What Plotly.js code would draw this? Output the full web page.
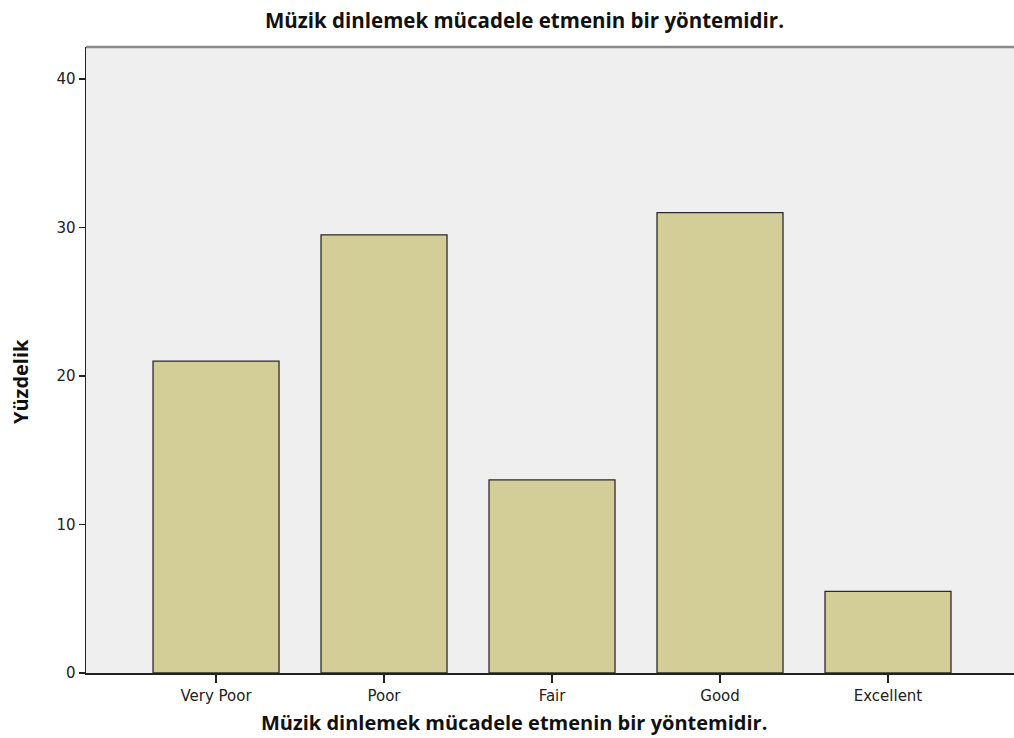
<!DOCTYPE html>
<html>
<head>
<meta charset="utf-8">
<script src="https://cdn.plot.ly/plotly-3.0.1.min.js"></script>
<style>html,body{margin:0;padding:0;background:#fff;}#chart{width:1014px;height:738px;}</style>
</head>
<body>
<div id="chart"></div>
<script>
const categories = ["Very Poor", "Poor", "Fair", "Good", "Excellent"];
const percentages = [21.0, 29.5, 13.0, 31.0, 5.5];
const yTicks = [0, 10, 20, 30, 40];
const chartTitle = "Müzik dinlemek mücadele etmenin bir yöntemidir.";
const xTitle = "Müzik dinlemek mücadele etmenin bir yöntemidir.";
const yTitle = "Yüzdelik";

const trace = {
  type: "bar",
  x: categories.map((c, i) => i),
  y: percentages,
  width: 0.75,
  marker: {color: "#D3CE97", line: {color: "#2b2b2b", width: 1.3}},
  hoverinfo: "x+y"
};

const boldFont = (s) => ({family: "'Open Sans', sans-serif", size: s, color: "#111", weight: "bold"});
const tickFont = {family: "'DejaVu Sans', sans-serif", size: 15, color: "#222"};

const layout = {
  width: 1014, height: 738,
  margin: {l: 86, r: 0, t: 47, b: 65},
  paper_bgcolor: "#ffffff",
  plot_bgcolor: "#EFEFEF",
  showlegend: false,
  xaxis: {
    range: [-0.774, 4.75],
    tickvals: categories.map((c, i) => i),
    ticktext: categories,
    ticks: "outside", ticklen: 8, tickwidth: 1.3, tickcolor: "#222",
    showline: true, linecolor: "#222", linewidth: 1.5,
    showgrid: false, zeroline: false,
    tickfont: tickFont
  },
  yaxis: {
    range: [0, 42.15],
    tickvals: yTicks,
    ticktext: yTicks.map(String),
    ticks: "outside", ticklen: 6, tickwidth: 1.3, tickcolor: "#222",
    showline: true, linecolor: "#222", linewidth: 1.5,
    showgrid: false, zeroline: false,
    tickfont: tickFont
  },
  annotations: [
    {text: chartTitle, xref: "paper", yref: "paper", x: (524.5 - 86) / 928, y: (673 - 20) / 626,
     xanchor: "center", yanchor: "middle", showarrow: false, font: boldFont(20.5)},
    {text: xTitle, xref: "paper", yref: "paper", x: (513.5 - 86) / 928, y: (673 - 722) / 626,
     xanchor: "center", yanchor: "middle", showarrow: false, font: boldFont(20)},
    {text: yTitle, xref: "paper", yref: "paper", x: (20 - 86) / 928, y: (673 - 382) / 626,
     xanchor: "center", yanchor: "middle", textangle: -90, showarrow: false, font: boldFont(20)}
  ],
  shapes: [
    {type: "line", xref: "paper", yref: "paper", x0: 0, x1: 1, y0: 1, y1: 1,
     line: {color: "#8a8a8a", width: 2.5}}
  ]
};

Plotly.newPlot("chart", [trace], layout, {displayModeBar: false, staticPlot: true});
</script>
</body>
</html>
